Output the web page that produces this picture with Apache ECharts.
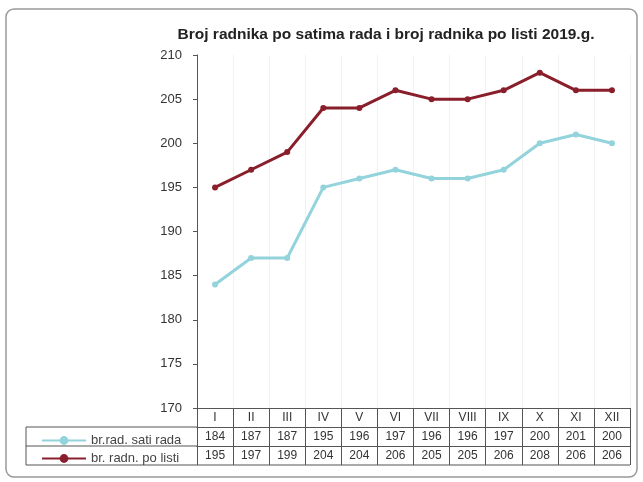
<!DOCTYPE html>
<html>
<head>
<meta charset="utf-8">
<script src="https://cdn.jsdelivr.net/npm/echarts@6/dist/echarts.min.js"></script>
<style>
  html, body { margin: 0; padding: 0; background: #fff; }
  #chart { width: 643px; height: 482px; }
</style>
</head>
<body>
<div id="chart"></div>
<script>
const months = ['I', 'II', 'III', 'IV', 'V', 'VI', 'VII', 'VIII', 'IX', 'X', 'XI', 'XII'];
const satiRada = [184, 187, 187, 195, 196, 197, 196, 196, 197, 200, 201, 200];
const poListi = [195, 197, 199, 204, 204, 206, 205, 205, 206, 208, 206, 206];
const seriesNames = ['br.rad. sati rada', 'br. radn. po listi'];

const chart = echarts.init(document.getElementById('chart'));
const font = 'Liberation Sans, Arial, sans-serif';
const lineColor = '#555';

// one axis per row of the data table below the plot
function tableAxis(offset, values) {
  return {
    type: 'category',
    data: months,
    position: 'bottom',
    offset: offset,
    axisLine: { show: true, lineStyle: { color: lineColor, width: 1 } },
    axisTick: { show: true, length: 19, lineStyle: { color: lineColor } },
    axisLabel: {
      margin: 4,
      color: '#333',
      fontFamily: font,
      fontSize: 12,
      formatter: (v, i) => (values ? String(values[i]) : v)
    },
    splitLine: { show: false }
  };
}

const xAxes = [tableAxis(0, null), tableAxis(19, satiRada), tableAxis(38, poListi)];
xAxes[0].splitLine = { show: true, lineStyle: { color: '#f1f1f1' } };

const option = {
  backgroundColor: '#fff',
  animation: false,
  title: {
    text: 'Broj radnika po satima rada i broj radnika po listi 2019.g.',
    left: 381,
    top: 22,
    textAlign: 'center',
    textStyle: { fontFamily: font, fontSize: 15.5, fontWeight: 'bold', color: '#222' }
  },
  grid: { left: 197, right: 13, top: 55, bottom: 74 },
  legend: {
    orient: 'vertical',
    left: 36,
    top: 429,
    itemGap: 5,
    itemWidth: 44,
    itemHeight: 11,
    textStyle: { fontFamily: font, fontSize: 13, color: '#444' },
    data: seriesNames
  },
  xAxis: xAxes,
  yAxis: {
    type: 'value',
    min: 170,
    max: 210,
    interval: 5,
    axisLine: { show: true, lineStyle: { color: lineColor } },
    axisTick: { show: true, length: 4, lineStyle: { color: lineColor } },
    axisLabel: { color: '#333', fontFamily: font, fontSize: 13, margin: 15 },
    splitLine: { show: false }
  },
  graphic: [
    { type: 'rect', shape: { x: 6, y: 9, width: 631, height: 468, r: 8 },
      style: { fill: 'none', stroke: '#999', lineWidth: 1.5 }, silent: true },
    { type: 'line', shape: { x1: 26, y1: 427, x2: 197, y2: 427 }, style: { stroke: lineColor } },
    { type: 'line', shape: { x1: 26, y1: 446, x2: 197, y2: 446 }, style: { stroke: lineColor } },
    { type: 'line', shape: { x1: 26, y1: 465, x2: 630, y2: 465 }, style: { stroke: lineColor } },
    { type: 'line', shape: { x1: 26, y1: 427, x2: 26, y2: 465 }, style: { stroke: lineColor } }
  ],
  series: [
    {
      name: seriesNames[0],
      type: 'line',
      data: satiRada,
      symbol: 'circle',
      symbolSize: 6,
      lineStyle: { color: '#93d3dc', width: 3 },
      itemStyle: { color: '#93d3dc' }
    },
    {
      name: seriesNames[1],
      type: 'line',
      data: poListi,
      symbol: 'circle',
      symbolSize: 6,
      lineStyle: { color: '#8a1f2c', width: 3 },
      itemStyle: { color: '#8a1f2c' }
    }
  ]
};

chart.setOption(option);
</script>
</body>
</html>
